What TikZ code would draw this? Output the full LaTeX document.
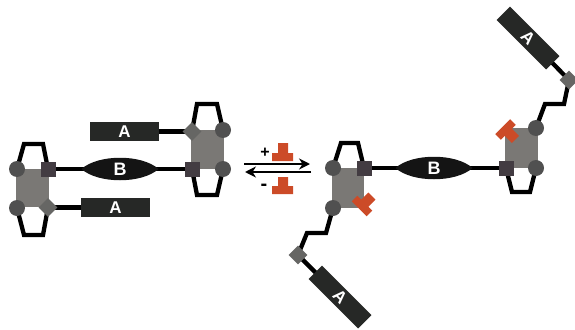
\documentclass[tikz,border=0pt]{standalone}
\usepackage{fontspec}
\setmainfont{Liberation Sans}
\usetikzlibrary{arrows.meta,calc,backgrounds,shapes.geometric}
\definecolor{barc}{HTML}{262826}
\definecolor{bodyc}{HTML}{7A7875}
\definecolor{circc}{HTML}{505050}
\definecolor{sqc}{HTML}{433C42}
\definecolor{diac}{HTML}{666664}
\definecolor{redc}{HTML}{CC4B28}
\tikzset{
 x=1pt,y=-1pt,
 linker/.style={line width=4.3pt,black,line join=miter},
 circnode/.style={circle,fill=circc,minimum size=16pt,inner sep=0pt},
 sqnode/.style={rectangle,fill=sqc,minimum size=15pt,inner sep=0pt},
 dianode/.style={diamond,fill=diac,minimum size=19pt,inner sep=0pt},
 abar/.style={rectangle,fill=barc,text=white,minimum width=69pt,minimum height=19pt,inner sep=0pt,font=\bfseries\fontsize{17}{17}\selectfont},
 blabel/.style={text=white,font=\bfseries\fontsize{18}{18}\selectfont},
 redt/.style={fill=redc,draw=none},
 arr/.style={line width=2.5pt,-{Stealth[length=11pt,width=11pt]}},
}
\newcommand{\lensB}[1]{\fill[black!92] ($(#1)+(-38.5,0)$) .. controls ($(#1)+(-22,-15)$) and ($(#1)+(22,-15)$) .. ($(#1)+(38.5,0)$) .. controls ($(#1)+(22,15)$) and ($(#1)+(-22,15)$) .. ($(#1)+(-38.5,0)$);}
\newcommand{\redT}[2]{\fill[redt,shift={(#1)},rotate=#2] (-10.5,-4) rectangle (10.5,4) (-5,-14) rectangle (5,-3);}
\begin{document}
\begin{tikzpicture}
\useasboundingbox (0,0) rectangle (575,329);
% left complex nodes
\node[circnode] (lc1) at (17,169) {};
\node[circnode] (lc2) at (17,208) {};
\node[sqnode] (ls1) at (48,169) {};
\node[dianode] (ld1) at (48,207.5) {};
\node[circnode] (rc1) at (223,130) {};
\node[circnode] (rc2) at (223,169) {};
\node[sqnode] (rs1) at (192,169) {};
\node[dianode] (rd1) at (192,131.5) {};
\node[abar] (a1) at (124.5,131.5) {A};
\node[abar] (a2) at (115.5,207.5) {A};
% right complex nodes
\node[circnode] (c3) at (333,168) {};
\node[circnode] (c4) at (333,208) {};
\node[sqnode] (s3) at (364,168) {};
\node[circnode] (c5) at (536,128) {};
\node[circnode] (c6) at (536,168) {};
\node[sqnode] (s4) at (506,168) {};
\node[dianode] (d3) at (298,255) {};
\node[dianode] (d4) at (569,80) {};
\node[abar,rotate=-45,minimum width=70pt] (a3) at (340,297) {A};
\node[abar,rotate=-45,minimum width=70pt] (a4) at (528,38) {A};
\begin{pgfonlayer}{background}
\fill[bodyc] (16,169) rectangle (49,207);
\fill[bodyc] (191,130) rectangle (224,169);
\fill[bodyc] (332,168) rectangle (364,208);
\fill[bodyc] (505,128) rectangle (538,168);
\draw[linker] (ls1.center) -- (rs1.center);
\draw[linker] (lc1.center) -- (24,144) -- (43,144) -- (ls1.center);
\draw[linker] (lc2.center) -- (24,235) -- (43,235) -- (ld1.center);
\draw[linker] (rd1.center) -- (197,104) -- (217,104) -- (rc1.center);
\draw[linker] (rs1.center) -- (197,195) -- (217,195) -- (rc2.center);
\draw[linker] (a1.center) -- (rd1.center);
\draw[linker] (a2.center) -- (ld1.center);
\draw[linker] (s3.center) -- (s4.center);
\draw[linker] (c3.center) -- (341,143) -- (358,143) -- (s3.center);
\draw[linker] (s4.center) -- (512,192) -- (530,192) -- (c6.center);
\draw[linker] (c4.center) -- (326,233) -- (307,233) -- (d3.center);
\draw[linker] (c5.center) -- (545,104) -- (564,104) -- (d4.center);
\draw[linker] (d3.center) -- (a3.center);
\draw[linker] (d4.center) -- (a4.center);
\end{pgfonlayer}
\coordinate (bl) at (120,169);
\lensB{bl}
\node[blabel] (b1) at (120,169) {B};
\coordinate (br) at (434,168);
\lensB{br}
\node[blabel] (b2) at (434,168) {B};
% arrows
\coordinate (p1) at (244,164); \coordinate (p2) at (310,164);
\coordinate (p3) at (311,172); \coordinate (p4) at (245,172);
\draw[arr] (p1) -- (p2);
\draw[arr] (p3) -- (p4);
\node[font=\bfseries\fontsize{16}{16}\selectfont] (plus) at (265,153) {+};
\node[font=\bfseries\fontsize{20}{20}\selectfont] (minus) at (264,187) {-};
\fill[redt] (278,143) rectangle (288,153) (272,153) rectangle (293,161);
\fill[redt] (278,177) rectangle (288,186) (272,186) rectangle (293,194);
% inhibitors
\redT{362,206}{-45}
\redT{505.5,129.5}{-135}
\end{tikzpicture}
\end{document}
